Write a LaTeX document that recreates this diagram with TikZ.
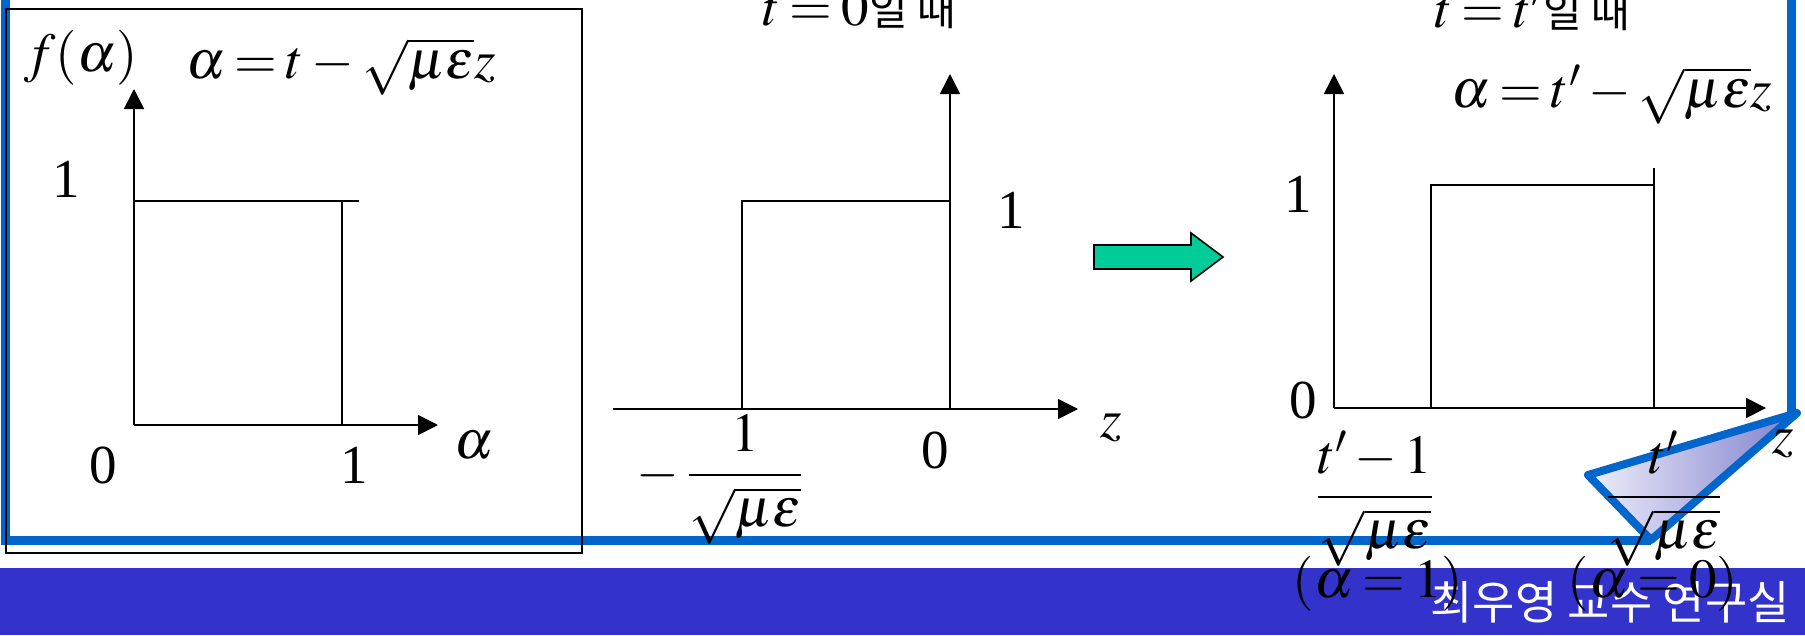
\documentclass[tikz,border=0pt]{standalone}
\usepackage{amsmath}
\usepackage{mathptmx}
\usepackage[no-math]{fontspec}
\setmainfont{Liberation Serif}
\newfontfamily\krfont{Noto Sans CJK KR}
\usetikzlibrary{arrows.meta}
\thickmuskip=3mu
\medmuskip=2.5mu
\definecolor{frameblue}{RGB}{0,102,204}
\definecolor{bandpurple}{RGB}{51,51,204}
\definecolor{arrowgreen}{RGB}{0,204,153}
\definecolor{calloutlight}{RGB}{238,238,250}
\definecolor{calloutdark}{RGB}{128,128,206}
\tikzset{
  lbl/.style={font=\fontsize{55}{60}\selectfont, inner sep=0pt, outer sep=0pt},
  axisline/.style={line width=1.6pt, -{Triangle[length=20pt,width=20pt]}},
  plotline/.style={line width=1.6pt},
  bluestroke/.style={draw=frameblue, line width=9pt},
}
\begin{document}
\begin{tikzpicture}[x=1pt,y=-1pt]
\useasboundingbox (0,0) rectangle (1805,635);
\clip (0,0) rectangle (1805,635);
\fill[white] (0,0) rectangle (1805,635);
% bottom band
\fill[bandpurple] (0,568) rectangle (1805,635);
% blue frame with callout
\coordinate (fTL) at (5,-20);
\coordinate (fBL) at (5,540);
\coordinate (cB) at (1651,540);
\coordinate (cL) at (1588,475);
\coordinate (cR) at (1797,413);
\coordinate (fTR) at (1791,-20);
\coordinate (fR) at (1791,413);
\path[left color=calloutlight, right color=calloutdark] (cL) -- (cR) -- (cB) -- cycle;
\draw[bluestroke, line join=miter] (fTL) -- (fBL) -- (cB);
\draw[bluestroke] (fTR) -- (fR);
\draw[draw=frameblue, line width=8pt, line join=round] (cL) -- (cR) -- (cB) -- cycle;
% black box
\draw[line width=1.6pt] (6,9) rectangle (582,553);
% ---------- graph 1 ----------
\coordinate (o1) at (134,425);
\coordinate (y1) at (134,89);
\coordinate (x1) at (438,425);
\draw[axisline] (o1) -- (y1);
\draw[axisline] (o1) -- (x1);
\coordinate (r1a) at (134,201);
\coordinate (r1b) at (359,201);
\coordinate (r1c) at (342,201);
\coordinate (r1d) at (342,425);
\draw[plotline] (r1a) -- (r1b);
\draw[plotline] (r1c) -- (r1d);
\node[lbl, anchor=base] (fa) at (81,71) {$f(\alpha)$};
\node[lbl, anchor=base west] (eq1) at (186,78) {$\alpha=t-\sqrt{\mu\varepsilon}z$};
\node[lbl, anchor=base] (one1y) at (66,197) {1};
\node[lbl, anchor=base] (zero1) at (103,483) {0};
\node[lbl, anchor=base] (one1x) at (354,483) {1};
\node[lbl, anchor=base] (al1) at (474,458) {$\alpha$};
% ---------- graph 2 ----------
\coordinate (o2) at (950,409);
\coordinate (y2) at (950,74);
\coordinate (x2s) at (613,409);
\coordinate (x2) at (1078,409);
\draw[axisline] (o2) -- (y2);
\draw[axisline] (x2s) -- (x2);
\coordinate (r2a) at (742,409);
\coordinate (r2b) at (742,201);
\coordinate (r2c) at (950,201);
\draw[plotline] (r2a) -- (r2b) -- (r2c);
\node[lbl, anchor=base west] (title2) at (763,25) {$t=0$\krfont\fontsize{42}{48}\selectfont 일 때};
\node[lbl, anchor=base] (one2) at (1011,228) {1};
\node[lbl, anchor=base] (zero2) at (935,468) {0};
\node[lbl, anchor=base] (z2) at (1111,437) {$z$};
\node[lbl, anchor=base west] (frac2) at (636,489) {$-\;\dfrac{1}{\sqrt{\mu\varepsilon}}$};
% ---------- green arrow ----------
\coordinate (g1) at (1094,245);
\coordinate (g2) at (1191,245);
\coordinate (g3) at (1191,233);
\coordinate (g4) at (1223,257);
\coordinate (g5) at (1191,281);
\coordinate (g6) at (1191,269);
\coordinate (g7) at (1094,269);
\draw[fill=arrowgreen, line width=1.6pt, line join=miter] (g1) -- (g2) -- (g3) -- (g4) -- (g5) -- (g6) -- (g7) -- cycle;
% ---------- graph 3 ----------
\coordinate (o3) at (1334,408);
\coordinate (y3) at (1334,74);
\coordinate (x3) at (1766,408);
\draw[axisline] (o3) -- (y3);
\draw[axisline] (o3) -- (x3);
\coordinate (r3a) at (1431,408);
\coordinate (r3b) at (1431,185);
\coordinate (r3c) at (1654,185);
\coordinate (r3d) at (1654,168);
\coordinate (r3e) at (1654,408);
\draw[plotline] (r3a) -- (r3b) -- (r3c);
\draw[plotline] (r3d) -- (r3e);
\node[lbl, anchor=base west] (title3) at (1435,27) {$t=t^{\prime}$\krfont\fontsize{42}{48}\selectfont 일 때};
\node[lbl, anchor=base west] (eq3) at (1451,107) {$\alpha=t^{\prime}-\sqrt{\mu\varepsilon}z$};
\node[lbl, anchor=base] (one3) at (1298,212) {1};
\node[lbl, anchor=base] (zero3) at (1303,418) {0};
\node[lbl, anchor=base] (z3) at (1783,453) {$z$};
\node[lbl, anchor=base] (frac3a) at (1375,511) {$\dfrac{t^{\prime}-1}{\sqrt{\mu\varepsilon}}$};
\node[lbl, anchor=base] (frac3b) at (1664,511) {$\dfrac{t^{\prime}}{\sqrt{\mu\varepsilon}}$};
% footer text
\node[anchor=base east, inner sep=0pt, text=white, font=\krfont\fontsize{46}{50}\selectfont] (footer) at (1790,619) {최우영 교수 연구실};
\node[lbl, anchor=base] (al3a) at (1378,597) {$(\alpha=1)$};
\node[lbl, anchor=base] (al3b) at (1653,597) {$(\alpha=0)$};
\end{tikzpicture}
\end{document}
